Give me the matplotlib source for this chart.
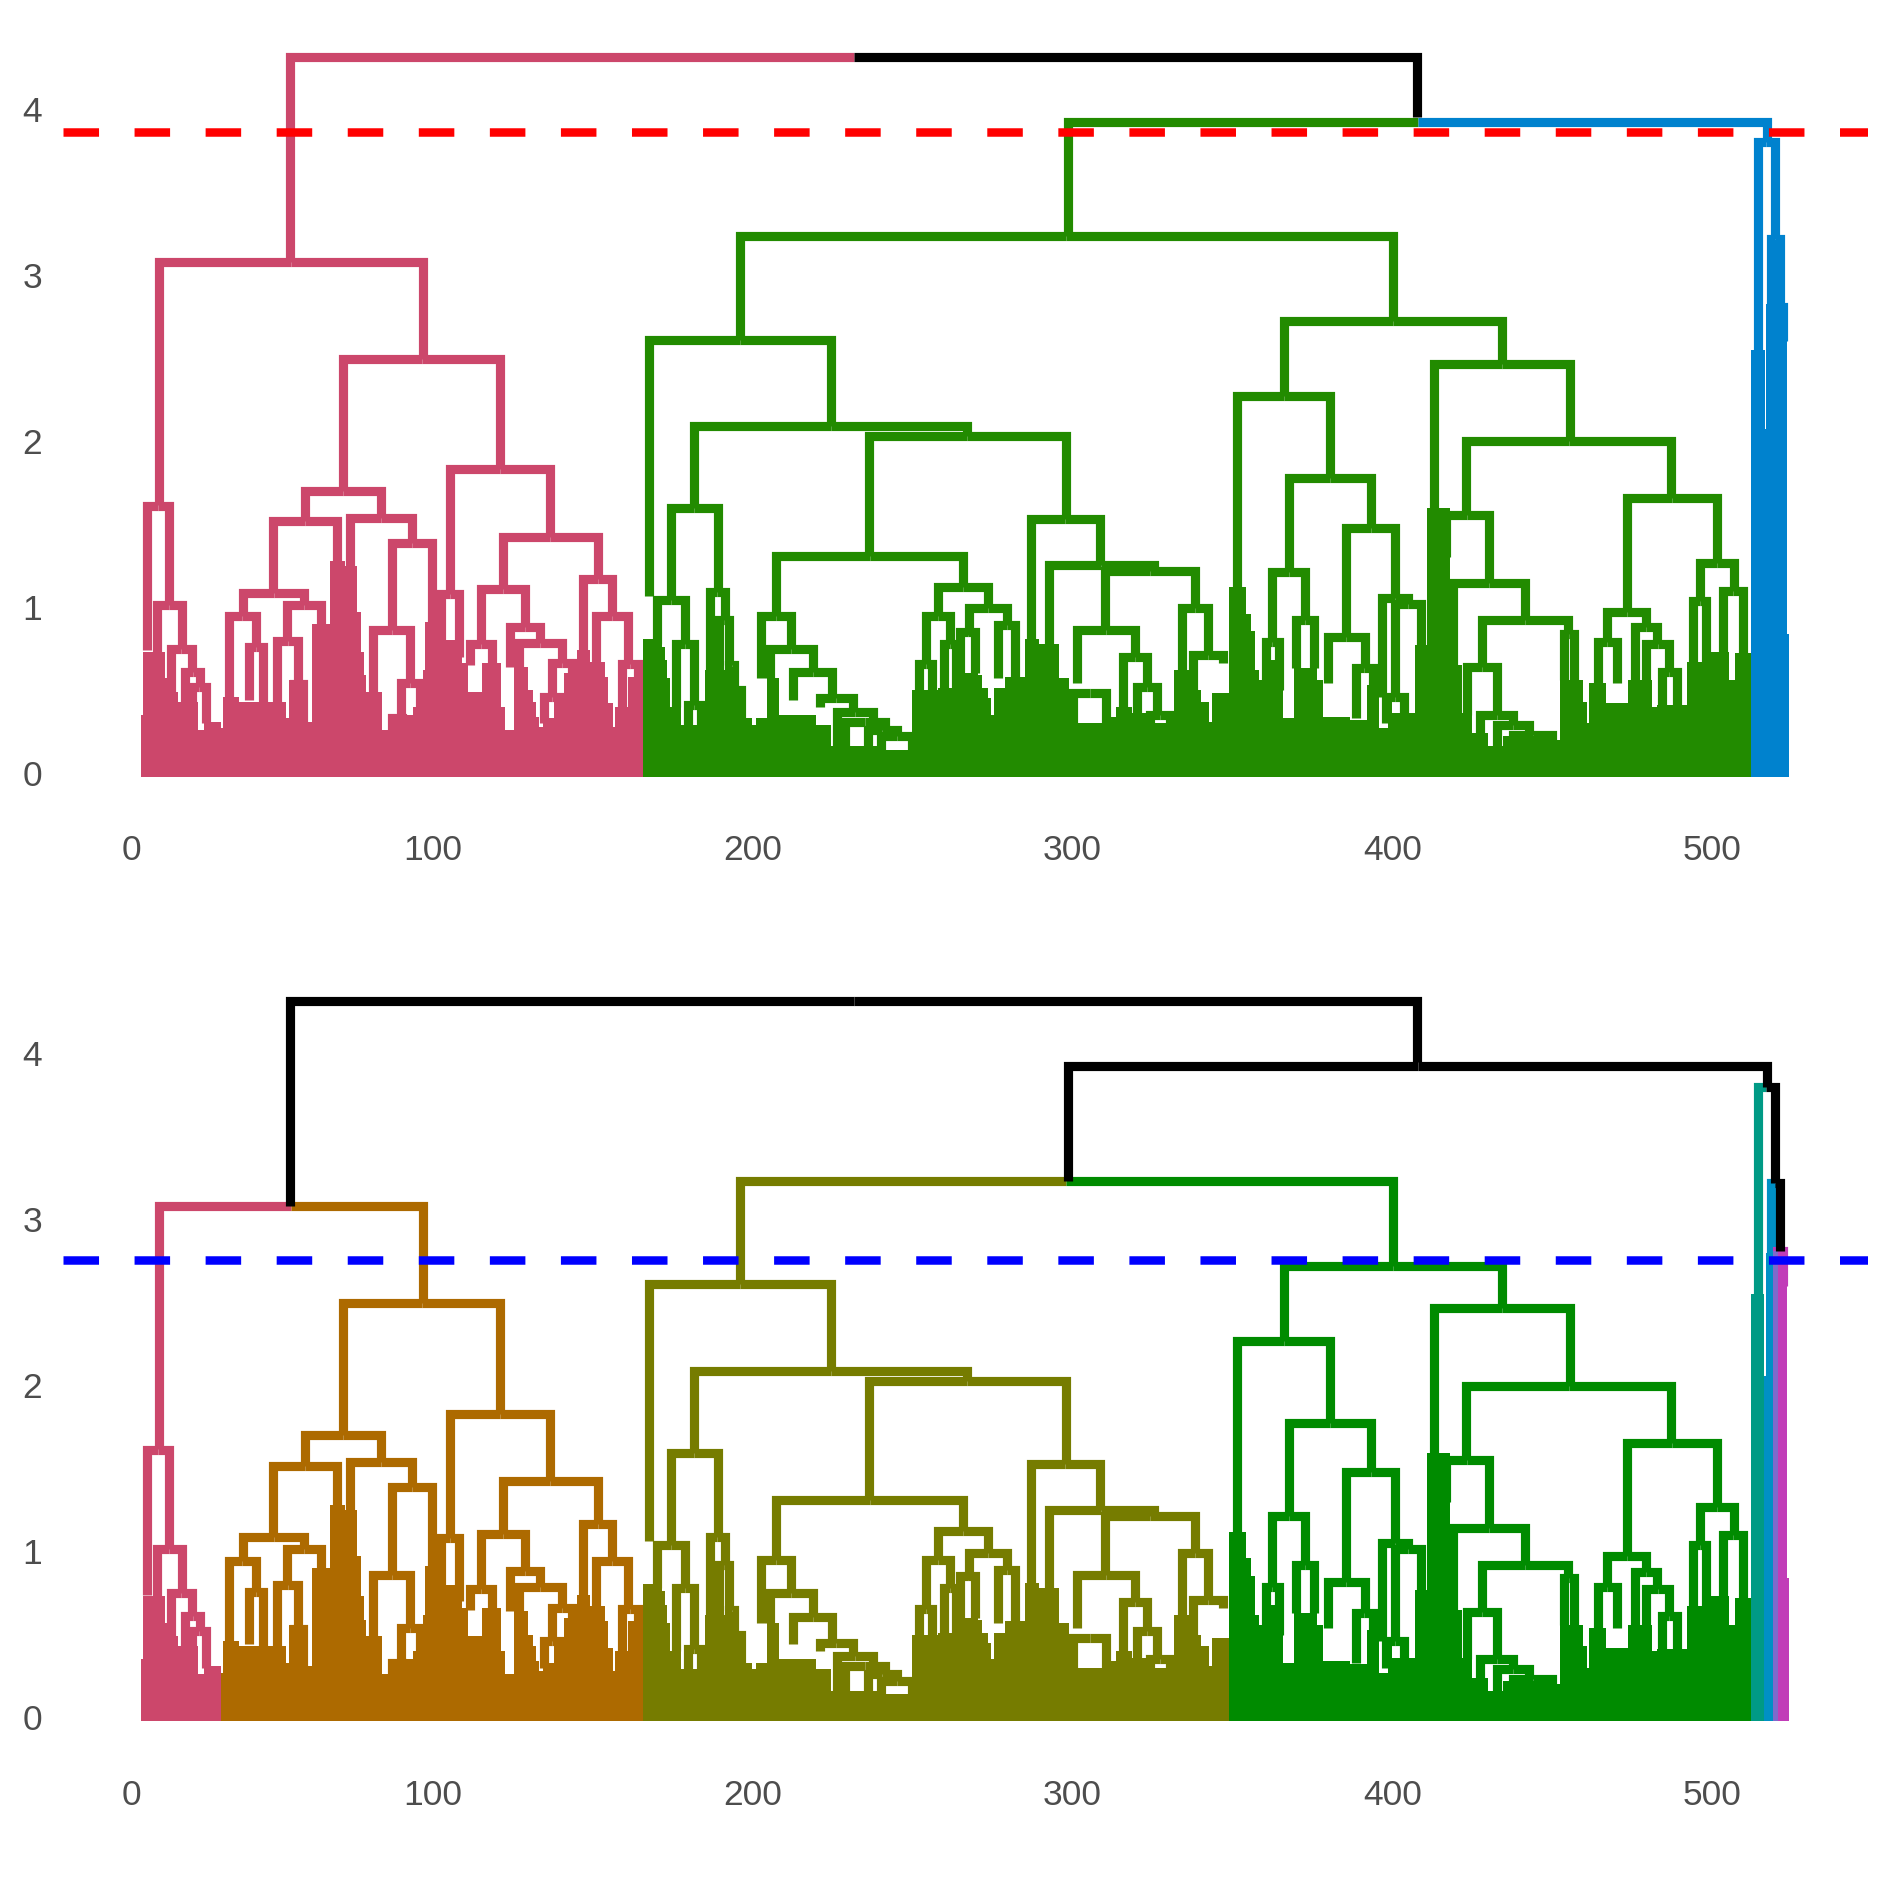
import numpy as np
import matplotlib
matplotlib.use("Agg")
import matplotlib.pyplot as plt

plt.rcParams['font.family'] = ['Liberation Sans', 'DejaVu Sans']

# merges: left x, right x, height, left child height, right child height
upper_links = [
    (55.6, 407.6, 4.315, 3.08, 3.95), (298.5, 517.2, 3.923, 3.234, 3.80),
    (14.6, 97.0, 3.08, 1.616, 2.494), (196.0, 400.1, 3.234, 2.61, 2.72),
    (514.1, 519.7, 3.80, 2.54, 3.217), (518.2, 521.2, 3.217, 2.7, 2.81),
    (520.2, 522.2, 2.81, 2.6, 2.6),
]
pink_links = [
    (10.75, 17.8, 1.61, 0.74, 1.014), (13.9, 21.6, 1.014, 0.73, 0.749),
    (18.2, 24.9, 0.749, 0.49, 0.61), (22.7, 27.4, 0.61, 0.26, 0.52),
    (24.9, 29.4, 0.52, 0.3, 0.3), (72.2, 121.1, 2.494, 1.70, 1.83),
    (60.3, 84.0, 1.70, 1.516, 1.538), (50.3, 70.2, 1.516, 1.086, 1.2),
    (40.7, 60.0, 1.086, 0.945, 1.014), (36.5, 44.8, 0.945, 0.46, 0.757),
    (42.6, 47.2, 0.757, 0.44, 0.43), (54.7, 65.3, 1.014, 0.797, 0.88),
    (51.4, 58.1, 0.797, 0.43, 0.536), (56.7, 59.5, 0.536, 0.3, 0.3),
    (74.3, 93.6, 1.538, 1.2, 1.387), (87.3, 100.0, 1.387, 0.859, 0.88),
    (81.4, 93.1, 0.859, 0.48, 0.54), (90.2, 96.0, 0.54, 0.33, 0.4),
    (87.3, 90.4, 0.33, 0.22, 0.22), (105.5, 136.9, 1.83, 1.08, 1.423),
    (122.0, 151.6, 1.423, 1.106, 1.168), (115.2, 129.0, 1.106, 0.777, 0.88),
    (111.6, 118.7, 0.777, 0.65, 0.65), (124.3, 133.7, 0.88, 0.64, 0.785),
    (127.0, 140.4, 0.785, 0.64, 0.66), (137.4, 143.5, 0.66, 0.46, 0.6),
    (134.9, 140.1, 0.46, 0.3, 0.3), (147.0, 156.2, 1.168, 0.74, 0.945),
    (151.1, 161.2, 0.945, 0.67, 0.656), (159.3, 164.1, 0.656, 0.4, 0.58),
    (102.7, 108.3, 1.08, 0.7, 0.7),
]
olive_links = [
    (167.8, 224.7, 2.61, 1.065, 2.088), (181.7, 267.2, 2.088, 1.594, 2.03),
    (174.7, 189.1, 1.594, 1.042, 1.088), (170.3, 179.0, 1.042, 0.78, 0.78),
    (176.1, 181.8, 0.78, 0.40, 0.41), (179.9, 183.9, 0.41, 0.28, 0.28),
    (186.8, 191.3, 1.088, 0.6, 0.92), (189.7, 192.6, 0.92, 0.6, 0.65),
    (192.6, 194.4, 0.65, 0.5, 0.5), (193.6, 196.3, 0.5, 0.3, 0.3),
    (236.3, 298.1, 2.03, 1.309, 1.528), (207.4, 265.9, 1.309, 0.948, 1.122),
    (202.7, 212.1, 0.948, 0.57, 0.75), (205.6, 218.8, 0.75, 0.57, 0.606),
    (212.6, 225.0, 0.606, 0.44, 0.45), (221.0, 231.5, 0.45, 0.40, 0.37),
    (226.3, 237.7, 0.37, 0.15, 0.31), (229.0, 241.4, 0.31, 0.16, 0.26),
    (236.0, 245.1, 0.26, 0.16, 0.22), (240.2, 250.0, 0.22, 0.14, 0.14),
    (258.0, 273.5, 1.122, 0.948, 0.992), (254.1, 261.8, 0.948, 0.656, 0.78),
    (252.1, 256.2, 0.656, 0.5, 0.5), (259.9, 263.6, 0.78, 0.5, 0.5),
    (267.6, 279.6, 0.992, 0.83, 0.89), (276.9, 282.2, 0.89, 0.57, 0.57),
    (265.0, 269.5, 0.85, 0.6, 0.6), (287.1, 308.5, 1.528, 0.81, 1.253),
    (292.7, 325.4, 1.253, 0.78, 1.215), (310.3, 338.4, 1.215, 0.861, 0.992),
    (301.3, 319.6, 0.861, 0.54, 0.696), (300.3, 310.6, 0.48, 0.3, 0.3),
    (315.9, 323.3, 0.696, 0.38, 0.52), (320.2, 326.3, 0.52, 0.35, 0.35),
    (324.2, 330.4, 0.35, 0.22, 0.22), (334.1, 342.5, 0.992, 0.62, 0.71),
    (337.8, 347.0, 0.71, 0.5, 0.66),
]
green_links = [
    (366.2, 434.4, 2.72, 2.27, 2.465), (351.5, 380.5, 2.27, 1.12, 1.775),
    (367.6, 393.3, 1.775, 1.213, 1.478), (362.5, 372.6, 1.213, 0.787, 0.92),
    (360.4, 364.6, 0.787, 0.5, 0.5), (370.0, 375.4, 0.92, 0.63, 0.63),
    (385.6, 400.9, 1.478, 0.817, 1.052), (380.0, 391.3, 0.817, 0.54, 0.63),
    (388.6, 393.9, 0.63, 0.33, 0.5), (396.9, 404.9, 1.052, 0.46, 1.018),
    (400.9, 408.9, 1.018, 0.46, 0.77), (398.1, 403.7, 0.46, 0.3, 0.36),
    (412.9, 455.5, 2.465, 1.584, 2.0), (423.1, 487.1, 2.0, 1.554, 1.654),
    (416.7, 430.2, 1.554, 1.3, 1.142), (419.0, 441.4, 1.142, 0.65, 0.92),
    (428.0, 454.9, 0.92, 0.636, 0.84), (423.2, 432.6, 0.636, 0.35, 0.35),
    (427.4, 437.8, 0.35, 0.16, 0.29), (432.8, 442.7, 0.29, 0.16, 0.23),
    (437.8, 449.9, 0.23, 0.16, 0.16), (453.7, 456.7, 0.84, 0.56, 0.56),
    (473.2, 501.3, 1.654, 0.972, 1.267), (467.1, 479.4, 0.972, 0.787, 0.877),
    (464.1, 470.1, 0.787, 0.54, 0.54), (475.9, 482.8, 0.877, 0.54, 0.777),
    (479.4, 486.4, 0.777, 0.54, 0.61), (484.2, 488.8, 0.61, 0.36, 0.36),
    (496.0, 506.6, 1.267, 1.038, 1.098), (494.0, 498.0, 1.038, 0.67, 0.67),
    (503.4, 509.6, 1.098, 0.72, 0.72),
]

# solid mass of the low merges: bin edges and height in each bin
mass_x = [8.9, 9.5, 16.4, 19.6, 20.5, 26.8, 28.5, 30.7, 33.8, 34.6, 39.6, 54.2, 55.3, 60.9, 62.5,
          68.1, 72.6, 76.5, 77.6, 78.5, 79.3, 84.3, 86.0, 93.8, 97.1, 97.7, 102.7, 108.3, 109.4,
          111.1, 115.5, 121.4, 122.8, 125.6, 130.0, 131.4, 132.5, 133.4, 134.5, 137.9, 141.0,
          145.1, 149.2, 153.8, 154.9, 156.5, 157.0, 161.1, 165.8,
          171.6, 172.8, 173.4, 174.4, 177.8, 185.2, 193.0, 195.4, 197.5, 200.0, 201.2, 204.6,
          208.3, 219.8, 224.7, 240.2, 246.6, 250.0, 258.1, 264.9, 270.4, 271.7, 273.5, 274.5,
          275.6, 278.8, 285.3, 289.6, 295.8, 298.8, 301.9, 311.8, 313.7, 318.6, 323.0, 331.6,
          336.3, 340.2, 342.7, 343.6, 348.9,
          354.2, 355.7, 357.2, 358.3, 359.3, 365.8, 369.1, 376.4, 378.4, 386.8, 392.1, 395.7,
          398.5, 399.9, 407.1, 410.7, 417.9, 420.2, 421.7, 425.0, 429.8, 434.6, 451.3, 452.5,
          459.7, 460.9, 461.5, 466.9, 473.5, 481.2, 482.8, 492.0, 498.0, 505.2, 507.0, 512.1]
mass_h = [0.35, 0.73, 0.57, 0.49, 0.43, 0.26, 0.31, 0.31, 0.27, 0.46, 0.43, 0.33, 0.56, 0.31, 0.9,
          1.28, 1.25, 0.97, 0.73, 0.59, 0.49, 0.26, 0.35, 0.40, 0.62, 0.91, 0.8, 0.73,
          0.66, 0.49, 0.66, 0.40, 0.26, 0.64, 0.50, 0.43, 0.34, 0.28, 0.33, 0.48, 0.60,
          0.74, 0.67, 0.58, 0.42, 0.28, 0.40, 0.58,
          0.805, 0.76, 0.68, 0.57, 0.40, 0.29, 0.62, 0.53, 0.52, 0.33, 0.29, 0.33, 0.57,
          0.35, 0.29, 0.16, 0.14, 0.14, 0.50, 0.51, 0.60, 0.59, 0.51, 0.45, 0.35,
          0.51, 0.58, 0.81, 0.78, 0.57, 0.34, 0.30, 0.34, 0.40, 0.36, 0.30, 0.62,
          0.50, 0.43, 0.31, 0.48,
          1.12, 0.96, 0.855, 0.62, 0.56, 0.68, 0.33, 0.63, 0.56, 0.34, 0.32, 0.53, 0.27,
          0.48, 0.36, 0.77, 1.594, 1.12, 0.65, 0.36, 0.24, 0.16, 0.22, 0.2,
          0.56, 0.43, 0.3, 0.54, 0.42, 0.56, 0.40, 0.41, 0.67, 0.73, 0.56, 0.72]
# the few tall blocks at the right end, one version per panel
top_tail_x = [512.0, 516.4, 516.9, 523.3, 523.9]
top_tail_h = [2.55, 2.07, 2.825, 0.84]
top_tail_colors = ['#0082CE', '#0082CE', '#0082CE', '#0082CE']
bottom_tail_x = [512.0, 516.0, 516.9, 519.0, 520.4, 523.3, 523.9]
bottom_tail_h = [2.55, 2.06, 2.8, 2.81, 2.81, 0.84]
bottom_tail_colors = ['#009A85', '#0090C5', '#0090C5', '#7F6ACB', '#C13CB8', '#C13CB8']

top_cut = 3.86
bottom_cut = 2.756
top_edges = [8.9, 165.8, 512.0, 523.9]
top_colors = ['#CC476B', '#228B00', '#0082CE']
bottom_edges = [8.9, 33.8, 165.8, 348.9, 512.0, 516.0, 519.0, 523.9]
bottom_colors = ['#CC476B', '#AD6A00', '#767C00', '#008B00', '#009A85', '#0090C5', '#C13CB8']

x_ticks = [6.1, 100, 200, 300, 400, 500]
x_labels = ['0', '100', '200', '300', '400', '500']
y_ticks = [0, 1, 2, 3, 4]

all_links = upper_links + pink_links + olive_links + green_links
FIG = 1889
PX_UNIT_X = 3.2
PX_UNIT_Y = 166.0
LW = 6.6


def draw_panel(offset, cut, edges, colors, line_color, tail_x, tail_h, tail_colors):
    # offset is the panel's shift down the figure in pixels
    ax = fig.add_axes([63 / FIG, 1 - (790 + offset) / FIG, (1868 - 63) / FIG, 780 / FIG])
    ax.set_xlim((63 - 112.4) / PX_UNIT_X, (1868 - 112.4) / PX_UNIT_X)
    ax.set_ylim((773 - 790) / PX_UNIT_Y, (773 - 10) / PX_UNIT_Y)

    def cluster(x):
        i = np.searchsorted(edges, x) - 1
        return colors[int(np.clip(i, 0, len(colors) - 1))]

    for x1, x2, h, h1, h2 in all_links:
        xm = (x1 + x2) / 2
        if h < cut:
            c1 = c2 = cluster(xm)
        else:
            c1 = cluster(x1) if h1 < cut else 'black'
            c2 = cluster(x2) if h2 < cut else 'black'
        ax.plot([x1, x1, xm], [h1, h, h], color=c1, lw=LW, solid_joinstyle='miter',
                solid_capstyle='butt', zorder=3 if c1 == 'black' else 2)
        ax.plot([xm, x2, x2], [h, h, h2], color=c2, lw=LW, solid_joinstyle='miter',
                solid_capstyle='butt', zorder=3 if c2 == 'black' else 2)

    # solid mass near the base
    base = -0.024
    mx = np.array(mass_x)
    mh = np.array(mass_h)
    ax.bar(mx[:-1], mh - base, width=np.diff(mx), bottom=base, align='edge', linewidth=0,
           color=[cluster(m) for m in (mx[:-1] + mx[1:]) / 2], antialiased=False, zorder=2.5)
    tx = np.array(tail_x)
    ax.bar(tx[:-1], np.array(tail_h) - base, width=np.diff(tx), bottom=base, align='edge',
           linewidth=0, color=tail_colors, antialiased=False, zorder=2.5)

    ax.axhline(cut, color=line_color, lw=6.12, dashes=(4.18, 4.18), zorder=4)

    ax.set_xticks(x_ticks, x_labels)
    ax.set_yticks(y_ticks, [str(v) for v in y_ticks])
    ax.tick_params(axis='x', length=0, pad=32, labelsize=25.5, labelcolor='#4D4D4D')
    ax.tick_params(axis='y', length=0, pad=15, labelsize=25.5, labelcolor='#4D4D4D')
    for s in ax.spines.values():
        s.set_visible(False)


fig = plt.figure(figsize=(FIG / 100, FIG / 100), dpi=100)
draw_panel(0, top_cut, top_edges, top_colors, 'red', top_tail_x, top_tail_h, top_tail_colors)
draw_panel(944.5, bottom_cut, bottom_edges, bottom_colors, 'blue',
           bottom_tail_x, bottom_tail_h, bottom_tail_colors)
fig.savefig('out.png', dpi=100)
